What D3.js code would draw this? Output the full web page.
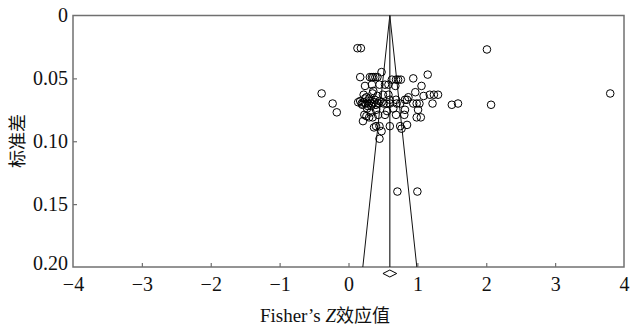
<!DOCTYPE html>
<html>
<head>
<meta charset="utf-8">
<script src="https://cdn.jsdelivr.net/npm/d3@7"></script>
<style>
  body { margin: 0; background: #fff; }
  text { font-family: "Liberation Serif", "Times New Roman", serif; fill: #111; }
  .cjk { font-family: "Noto Sans CJK SC", sans-serif; }
</style>
</head>
<body>
<svg id="chart" width="635" height="329"></svg>
<script>
// Fisher's Z effect size for each study
const effectZ = [
  0.13, 0.18, 2.01,
  0.48, 1.15,
  0.17, 0.31, 0.34, 0.36, 0.39, 0.42,
  0.63, 0.69, 0.72, 0.76, 0.94,
  0.24, 0.34, 0.45, 0.53, 0.58, 0.68, 1.06,
  0.97, 1.09, 1.18, 1.24, 1.30, 3.80, -0.39,
  0.22, 0.26, 0.42, 0.50, 0.58, 0.60, 0.69, 0.85, 0.87, 0.30, 0.35,
  0.14, 0.17, 0.19, 0.22, 0.25, 0.29, 0.34, 0.37, 0.40, 0.43, 0.48, 0.51, 0.55, 0.60,
  0.70, 0.75, 0.82, 0.94, 0.99, 1.03, 1.22, 1.50, 1.59, 2.07, -0.23, 0.31, 0.45,
  0.27, 0.40, 0.65, 0.82, 1.01, -0.17, 0.32, 0.56,
  0.23, 0.30, 0.35, 0.43, 0.53, 0.69, 0.81, 0.99, 1.05, 0.26,
  0.21,
  0.37, 0.45, 0.48, 0.60, 0.75, 0.85, 0.77, 0.40,
  0.45, 0.71, 1.00,
  0.20, 0.28, 0.33, 0.38, 0.24, 0.36
];
// standard error for each study (same order)
const stdErr = [
  0.026, 0.026, 0.027,
  0.045, 0.047,
  0.049, 0.049, 0.049, 0.049, 0.049, 0.049,
  0.051, 0.051, 0.051, 0.051, 0.050,
  0.056, 0.055, 0.055, 0.055, 0.055, 0.056, 0.056,
  0.061, 0.064, 0.063, 0.063, 0.063, 0.062, 0.062,
  0.063, 0.065, 0.064, 0.063, 0.063, 0.067, 0.067, 0.067, 0.065, 0.066, 0.062,
  0.069, 0.068, 0.070, 0.069, 0.070, 0.070, 0.070, 0.069, 0.071, 0.070, 0.069, 0.070, 0.070, 0.070,
  0.070, 0.070, 0.067, 0.070, 0.070, 0.070, 0.070, 0.071, 0.070, 0.071, 0.070, 0.068, 0.068,
  0.074, 0.075, 0.074, 0.075, 0.075, 0.077, 0.077, 0.076,
  0.079, 0.081, 0.081, 0.079, 0.079, 0.079, 0.079, 0.081, 0.081, 0.080,
  0.084,
  0.089, 0.088, 0.092, 0.088, 0.088, 0.087, 0.090, 0.088,
  0.098, 0.140, 0.140,
  0.071, 0.072, 0.072, 0.067, 0.066, 0.060
];

const pooledZ = 0.60;
const pooledCI = [0.50, 0.70];
const maxSE = 0.20;

const xTicks = [-4, -3, -2, -1, 0, 1, 2, 3, 4];
const yTicks = [0, 0.05, 0.10, 0.15, 0.20];
const yTickLabels = ["0", "0.05", "0.10", "0.15", "0.20"];

const svg = d3.select("#chart");
const width = 635, height = 329;
const margin = { top: 15.5, right: 11, bottom: 62, left: 73 };

const x = d3.scaleLinear()
  .domain([-4, 4])
  .range([margin.left, width - margin.right]);

const y = d3.scaleLinear()
  .domain([0, maxSE])
  .range([margin.top, height - margin.bottom]);

const axisColor = "#707070";

// frame
svg.append("rect")
  .attr("x", x(-4))
  .attr("y", y(0))
  .attr("width", x(4) - x(-4))
  .attr("height", y(maxSE) - y(0))
  .attr("fill", "none")
  .attr("stroke", axisColor)
  .attr("stroke-width", 1.5);

// x axis (ticks pointing inward)
const xAxis = svg.append("g")
  .attr("transform", `translate(0,${y(maxSE)})`)
  .call(d3.axisBottom(x).tickValues(xTicks).tickSizeInner(-4).tickSizeOuter(0).tickPadding(10));
xAxis.select(".domain").remove();
xAxis.selectAll(".tick line").attr("stroke", axisColor).attr("stroke-width", 1.2)
  .filter(d => d === -4 || d === 4).remove();
xAxis.selectAll(".tick text")
  .attr("font-family", "Liberation Serif, serif")
  .attr("font-size", 20)
  .attr("fill", "#111");

// y axis (ticks pointing inward)
const yAxis = svg.append("g")
  .attr("transform", `translate(${x(-4)},0)`)
  .call(d3.axisLeft(y).tickValues(yTicks).tickSizeInner(-4).tickSizeOuter(0).tickPadding(5)
    .tickFormat((d, i) => yTickLabels[i]));
yAxis.select(".domain").remove();
yAxis.selectAll(".tick line").attr("stroke", axisColor).attr("stroke-width", 1.2)
  .filter(d => d === 0 || d === maxSE).remove();
yAxis.selectAll(".tick text")
  .attr("font-family", "Liberation Serif, serif")
  .attr("font-size", 20)
  .attr("fill", "#111")
  .attr("dy", (d) => d === maxSE ? "0.1em" : "0.32em");

// funnel
const funnel = [
  [pooledZ - 1.96 * maxSE, maxSE],
  [pooledZ, 0],
  [pooledZ + 1.96 * maxSE, maxSE]
];
svg.append("path")
  .datum(funnel)
  .attr("fill", "none")
  .attr("stroke", "#111")
  .attr("stroke-width", 1)
  .attr("d", d3.line().x(d => x(d[0])).y(d => y(d[1])));

svg.append("line")
  .attr("x1", x(pooledZ)).attr("x2", x(pooledZ))
  .attr("y1", y(0)).attr("y2", y(maxSE))
  .attr("stroke", "#222")
  .attr("stroke-width", 1.2);

// studies
const points = effectZ.map((z, i) => ({ z: z, se: stdErr[i] }));
svg.append("g")
  .selectAll("circle")
  .data(points)
  .join("circle")
  .attr("cx", d => x(d.z))
  .attr("cy", d => y(d.se))
  .attr("r", 3.8)
  .attr("fill", "none")
  .attr("stroke", "#000")
  .attr("stroke-width", 1);

// pooled estimate diamond below the axis
const dy0 = y(maxSE) + 6.5;
svg.append("path")
  .attr("d", `M${x(pooledCI[0])},${dy0} L${x(pooledZ)},${dy0 - 3.5} L${x(pooledCI[1])},${dy0} L${x(pooledZ)},${dy0 + 3.5} Z`)
  .attr("fill", "#fff")
  .attr("stroke", "#000")
  .attr("stroke-width", 1);

// axis titles
const xt = svg.append("text")
  .attr("x", 325)
  .attr("y", 322)
  .attr("text-anchor", "middle")
  .attr("font-size", 19);
xt.append("tspan").text("Fisher’s ");
xt.append("tspan").attr("font-style", "italic").text("Z");
xt.append("tspan").attr("class", "cjk").attr("font-size", 18).text("效应值");

svg.append("text")
  .attr("class", "cjk")
  .attr("transform", `translate(24,141) rotate(-90)`)
  .attr("text-anchor", "middle")
  .attr("font-size", 18)
  .text("标准差");
</script>
</body>
</html>
